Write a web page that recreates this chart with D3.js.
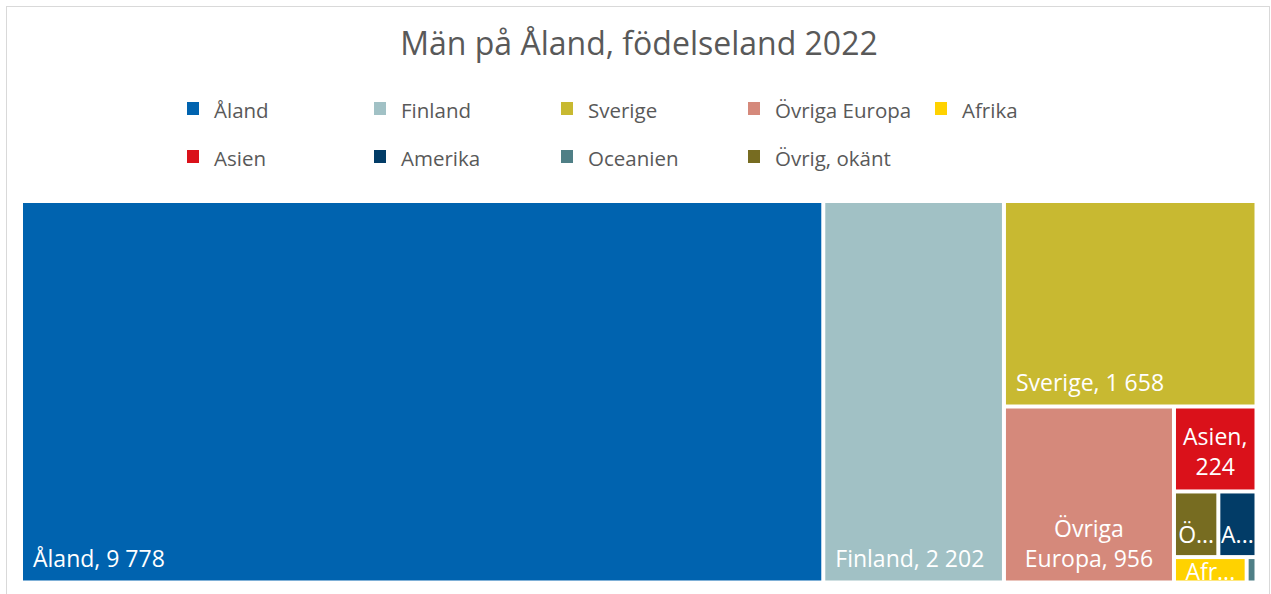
<!DOCTYPE html>
<html>
<head>
<meta charset="utf-8">
<script src="https://d3js.org/d3.v7.min.js"></script>
<style>
    body { margin: 0; background: #fff; }
    text { font-family: "Open Sans", "Noto Sans", sans-serif; }
</style>
</head>
<body>
<div id="chart-area"></div>
<script>

// Data (legend order)
var categories = ["Åland", "Finland", "Sverige", "Övriga Europa", "Afrika", "Asien", "Amerika", "Oceanien", "Övrig, okänt"];
var values = [9778, 2202, 1658, 956, 59, 224, 80, 8, 93];
var colors = ["#0063af", "#a1c1c5", "#c8b931", "#d5897b", "#ffd200", "#da111a", "#023c67", "#4f7f86", "#776c21"];
var chartTitle = "Män på Åland, födelseland 2022";


// squarify like d3's, but d3 clamps ratio to >= 1 and Excel seems to use a bit less
function excelTile(parent, x0, y0, x1, y1) {
    var ratio = 0.92;
    var nodes = parent.children, n = nodes.length, value = parent.value;
    var i0 = 0, i1 = 0;

    while (i0 < n) {
        var dx = x1 - x0, dy = y1 - y0;
        var sumValue = nodes[i1++].value;
        var minValue = sumValue, maxValue = sumValue;
        var alpha = Math.max(dy / dx, dx / dy) / (value * ratio);
        var beta = sumValue * sumValue * alpha;
        var minRatio = Math.max(maxValue / beta, beta / minValue);

        for (; i1 < n; ++i1) {
            var nodeValue = nodes[i1].value;
            sumValue += nodeValue;
            if (nodeValue < minValue) minValue = nodeValue;
            if (nodeValue > maxValue) maxValue = nodeValue;
            beta = sumValue * sumValue * alpha;
            var newRatio = Math.max(maxValue / beta, beta / minValue);
            if (newRatio > minRatio) { sumValue -= nodeValue; break; }
            minRatio = newRatio;
        }

        var row = { value: sumValue, children: nodes.slice(i0, i1) };
        if (dx < dy) {
            d3.treemapDice(row, x0, y0, x1, y0 += dy * sumValue / value);
        } else {
            d3.treemapSlice(row, x0, y0, x0 += dx * sumValue / value, y1);
        }
        value -= sumValue;
        i0 = i1;
    }
}


TreeMap = function (_parentElement, _names, _values, _colors) {

    this.parentElement = _parentElement;
    this.names = _names;
    this.values = _values;
    this.colors = _colors;
    this.initVis();

};

TreeMap.prototype.initVis = function () {

    var vis = this;

    vis.width = 1271;
    vis.height = 594;
    vis.box = { left: 23, top: 203, right: 1254.5, bottom: 580.5 };

    vis.svg = d3.select("#" + vis.parentElement).append("svg")
        .attr("width", vis.width)
        .attr("height", vis.height);

    // Chart border
    vis.svg.append("rect")
        .attr("x", 6.5)
        .attr("y", 6.5)
        .attr("width", 1263)
        .attr("height", 600)
        .attr("fill", "#fff")
        .attr("stroke", "#d9d9d9");

    // Title
    vis.svg.append("text")
        .attr("x", 639)
        .attr("y", 55)
        .attr("text-anchor", "middle")
        .attr("fill", "#595959")
        .style("font-size", "32px")
        .text(chartTitle);

    vis.color = d3.scaleOrdinal()
        .domain(vis.names)
        .range(vis.colors);

    // Legend, 5 per row
    var legend = vis.svg.append("g").attr("class", "legend");
    var item = legend.selectAll("g")
        .data(vis.names)
        .enter().append("g")
        .attr("transform", function (d, i) {
            return "translate(" + (214 + (i % 5) * 187) + "," + (118 + Math.floor(i / 5) * 48) + ")";
        });

    item.append("rect")
        .attr("x", -27)
        .attr("y", -16)
        .attr("width", 12)
        .attr("height", 13)
        .attr("fill", function (d) { return vis.color(d); });

    item.append("text")
        .attr("fill", "#595959")
        .style("font-size", "20.5px")
        .text(function (d) { return d; });

    vis.fmt = d3.formatLocale({ decimal: ",", thousands: "\u00a0", grouping: [3], currency: ["", ""] }).format(",");

    vis.wrangleData();
};

TreeMap.prototype.wrangleData = function () {

    var vis = this;

    vis.root = d3.hierarchy({
        children: vis.names.map(function (n, i) { return { name: n, value: vis.values[i] }; })
    })
        .sum(function (d) { return d.value || 0; })
        .sort(function (a, b) { return b.value - a.value; });

    d3.treemap()
        .tile(excelTile)
        .size([vis.box.right - vis.box.left, vis.box.bottom - vis.box.top])
        .paddingInner(4)
        (vis.root);

    vis.updateVis();
};

TreeMap.prototype.updateVis = function () {

    var vis = this;

    var cells = vis.svg.append("g")
        .attr("transform", "translate(" + vis.box.left + "," + vis.box.top + ")")
        .selectAll("g")
        .data(vis.root.leaves())
        .enter().append("g");

    cells.append("clipPath")
        .attr("id", function (d, i) { return "clip" + i; })
        .append("rect")
        .attr("x", function (d) { return d.x0; })
        .attr("y", function (d) { return d.y0; })
        .attr("width", function (d) { return d.x1 - d.x0; })
        .attr("height", function (d) { return d.y1 - d.y0; });

    cells.append("rect")
        .attr("x", function (d) { return d.x0; })
        .attr("y", function (d) { return d.y0; })
        .attr("width", function (d) { return d.x1 - d.x0; })
        .attr("height", function (d) { return d.y1 - d.y0; })
        .attr("fill", function (d) { return vis.color(d.data.name); });

    cells.each(function (d, i) {
        vis.drawLabel(d3.select(this), d, i);
    });
};

TreeMap.prototype.drawLabel = function (g, d, i) {

    var vis = this;
    var w = d.x1 - d.x0, h = d.y1 - d.y0;
    if (w < 20) return;

    var label = d.data.name + ", " + vis.fmt(d.data.value);
    var txt = g.append("text")
        .attr("clip-path", "url(#clip" + i + ")")
        .attr("fill", "#fff")
        .style("font-size", "23px");

    var measure = function (s) {
        txt.text(s);
        return txt.node().getComputedTextLength();
    };

    // fits on one line: bottom left
    if (measure(label) <= w - 20) {
        txt.attr("x", d.x0 + 10).attr("y", d.y1 - 13.5).text(label);
        return;
    }

    // wrap words
    var words = label.split(" ");
    var lines = [], line = "";
    words.forEach(function (wd) {
        var test = line ? line + " " + wd : wd;
        if (line && measure(test) > w - 20) {
            lines.push(line);
            line = wd;
        } else {
            line = test;
        }
    });
    lines.push(line);

    var wordsFit = words.every(function (wd) { return measure(wd) <= w - 8; });
    var cx = (d.x0 + d.x1) / 2;

    if (wordsFit && lines.length * 30 <= h - 6) {
        txt.text(null).attr("text-anchor", "middle");
        lines.forEach(function (l, k) {
            txt.append("tspan")
                .attr("x", cx)
                .attr("y", d.y1 - 14 - (lines.length - 1 - k) * 30)
                .text(l);
        });
        return;
    }

    // too small: first word cut with dots
    var first = words[0], n = first.length - 1;
    while (n > 1 && measure(first.slice(0, n) + "...") > w - 16) n--;
    txt.text(first.slice(0, n) + "...")
        .attr("text-anchor", "middle")
        .attr("x", cx)
        .attr("y", Math.max(d.y1 - 12, d.y0 + 21));
};


var treeMap = new TreeMap("chart-area", categories, values, colors);

</script>
</body>
</html>
